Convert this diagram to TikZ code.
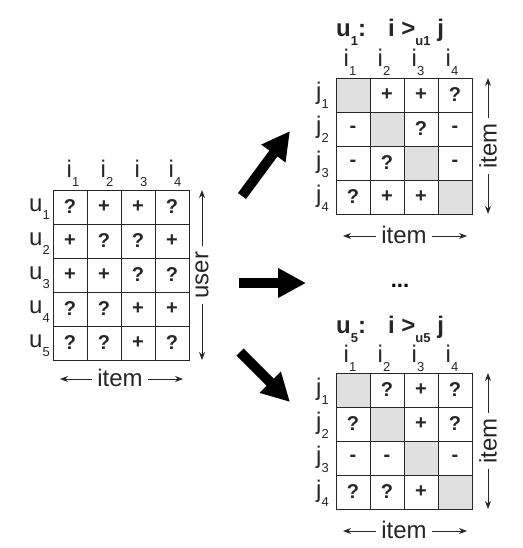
\documentclass[tikz,border=0pt]{standalone}
\usepackage{fontspec}
\setmainfont{Liberation Sans}
\usetikzlibrary{arrows.meta}
\newcommand\subl[1]{\raisebox{-9pt}{\fontsize{13}{13}\selectfont #1}}
\newcommand\lab[2]{#1\subl{#2}}
\tikzset{
  cell/.style={draw=black!85, line width=0.8pt, minimum width=34pt, minimum height=34pt,
    inner sep=0pt, font=\fontsize{20}{20}\selectfont\bfseries, text=black!85},
  diagcell/.style={cell, fill=black!12},
  lbl/.style={font=\fontsize{24}{24}\selectfont, text=black!85, inner sep=0pt},
  axlbl/.style={lbl, inner xsep=5pt},
  ttl/.style={font=\fontsize{24}{24}\selectfont\bfseries, text=black!85, inner sep=0pt, anchor=base west},
  thinarr/.style={line width=0.9pt, black!85, -{Stealth[length=8pt,width=6pt]}},
  bigarr/.style={line width=10pt, black, -{Triangle[length=28pt,width=28pt]}}
}
\begin{document}
\begin{tikzpicture}[x=1pt,y=-1pt]
\useasboundingbox (0,0) rectangle (522,548);

% ---------- left matrix (user x item)
\foreach \v [count=\k from 0] in {?,+,+,?, +,?,?,+, +,+,?,?, ?,?,+,+, ?,?,+,?}{
  \pgfmathtruncatemacro\r{div(\k,4)+1}
  \pgfmathtruncatemacro\c{mod(\k,4)+1}
  \node[cell] (L-\r-\c) at (36+34*\c, 173+34*\r) {\v};
}
\foreach \c in {1,...,4}
  \node[lbl, anchor=base] (Li\c) at (39+34*\c, 178) {\lab{i}{\c}};
\foreach \r in {1,...,5}
  \node[lbl, anchor=base east] (Lu\r) at (50, 177+34*\r) {\lab{u}{\r}};
\node[axlbl, rotate=90] (user) at (202,275) {user};
\coordinate (usertop) at (202,190);
\coordinate (userbot) at (202,360);
\draw[thinarr] (user.east) -- (usertop);
\draw[thinarr] (user.west) -- (userbot);
\node[axlbl] (Litem) at (120,378) {item};
\coordinate (Litemw) at (60,379);
\coordinate (Liteme) at (183,379);
\draw[thinarr] (Litem.west |- Litemw) -- (Litemw);
\draw[thinarr] (Litem.east |- Liteme) -- (Liteme);

% ---------- top right matrix (u1)
\node[ttl] (T1) at (336,37) {u\subl{1}:\hspace{22pt}i >\subl{u1} j};
\foreach \v [count=\k from 0] in {x,+,+,?, -,x,?,-, -,?,x,-, ?,+,+,x}{
  \pgfmathtruncatemacro\r{div(\k,4)+1}
  \pgfmathtruncatemacro\c{mod(\k,4)+1}
  \ifnum\r=\c
    \node[diagcell] (A-\r-\c) at (319+34*\c, 61+34*\r) {};
  \else
    \node[cell] (A-\r-\c) at (319+34*\c, 61+34*\r) {\v};
  \fi
}
\foreach \c in {1,...,4}
  \node[lbl, anchor=base] (Ai\c) at (316+34*\c, 67) {\lab{i}{\c}};
\foreach \r in {1,...,4}
  \node[lbl, anchor=base east] (Aj\r) at (329, 66+34*\r) {\lab{j}{\r}};
\node[axlbl, rotate=90] (Aitemv) at (488,146) {item};
\coordinate (Avtop) at (488,78);
\coordinate (Avbot) at (488,214);
\draw[thinarr] (Aitemv.east) -- (Avtop);
\draw[thinarr] (Aitemv.west) -- (Avbot);
\node[axlbl] (Aitemh) at (404,235) {item};
\coordinate (Ahw) at (343,236);
\coordinate (Ahe) at (467,236);
\draw[thinarr] (Aitemh.west |- Ahw) -- (Ahw);
\draw[thinarr] (Aitemh.east |- Ahe) -- (Ahe);

% ---------- dots
\node[font=\fontsize{22}{22}\selectfont\bfseries, inner sep=0pt, anchor=base] (dots) at (400,287) {...};

% ---------- bottom right matrix (u5)
\node[ttl] (T5) at (336,333) {u\subl{5}:\hspace{22pt}i >\subl{u5} j};
\foreach \v [count=\k from 0] in {x,?,+,?, ?,x,+,?, -,-,x,-, ?,?,+,x}{
  \pgfmathtruncatemacro\r{div(\k,4)+1}
  \pgfmathtruncatemacro\c{mod(\k,4)+1}
  \ifnum\r=\c
    \node[diagcell] (B-\r-\c) at (319+34*\c, 356+34*\r) {};
  \else
    \node[cell] (B-\r-\c) at (319+34*\c, 356+34*\r) {\v};
  \fi
}
\foreach \c in {1,...,4}
  \node[lbl, anchor=base] (Bi\c) at (316+34*\c, 362) {\lab{i}{\c}};
\foreach \r in {1,...,4}
  \node[lbl, anchor=base east] (Bj\r) at (329, 361+34*\r) {\lab{j}{\r}};
\node[axlbl, rotate=90] (Bitemv) at (488,441) {item};
\coordinate (Bvtop) at (488,373);
\coordinate (Bvbot) at (488,509);
\draw[thinarr] (Bitemv.east) -- (Bvtop);
\draw[thinarr] (Bitemv.west) -- (Bvbot);
\node[axlbl] (Bitemh) at (404,530) {item};
\coordinate (Bhw) at (343,531);
\coordinate (Bhe) at (467,531);
\draw[thinarr] (Bitemh.west |- Bhw) -- (Bhw);
\draw[thinarr] (Bitemh.east |- Bhe) -- (Bhe);

% ---------- big arrows
\coordinate (up0) at (242,196);
\coordinate (up1) at (290,131);
\coordinate (mid0) at (239,283);
\coordinate (mid1) at (306,283);
\coordinate (lo0) at (240,352);
\coordinate (lo1) at (290,402);
\draw[bigarr] (up0) -- (up1);
\draw[bigarr] (mid0) -- (mid1);
\draw[bigarr] (lo0) -- (lo1);
\end{tikzpicture}
\end{document}
